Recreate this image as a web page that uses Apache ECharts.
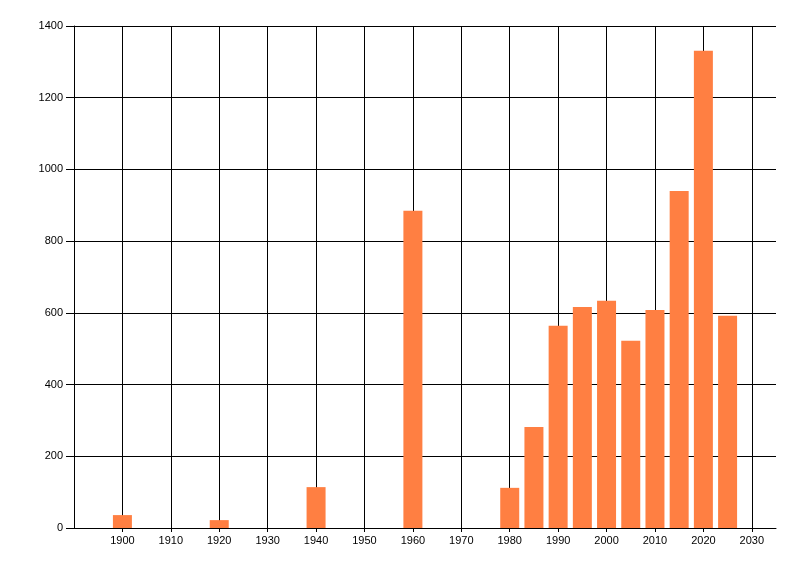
<!DOCTYPE html>
<html>
<head>
<meta charset="utf-8">
<script src="https://cdn.jsdelivr.net/npm/echarts@6/dist/echarts.min.js"></script>
<style>html,body{margin:0;padding:0;background:#fff;}#c{width:800px;height:576px;}</style>
</head>
<body>
<div id="c"></div>
<script>
const years = [1900, 1920, 1940, 1960, 1980, 1985, 1990, 1995, 2000, 2005, 2010, 2015, 2020, 2025];
const values = [36, 22, 114, 885, 112, 282, 564, 616, 634, 522, 608, 940, 1331, 592];
const xTicks = [1900, 1910, 1920, 1930, 1940, 1950, 1960, 1970, 1980, 1990, 2000, 2010, 2020, 2030];
const yTicks = [0, 200, 400, 600, 800, 1000, 1200, 1400];

const chart = echarts.init(document.getElementById('c'), null, {renderer: 'canvas'});
const font = 'Liberation Sans, Arial, sans-serif';
chart.setOption({
  animation: false,
  backgroundColor: '#fff',
  grid: {left: 74, right: 24, top: 26, bottom: 48, containLabel: false},
  xAxis: {
    type: 'value',
    min: 1890, max: 2035, interval: 10,
    axisLine: {show: true, lineStyle: {color: '#000', width: 1}},
    axisTick: {show: true, length: 4, lineStyle: {color: '#000'}, customValues: xTicks},
    axisLabel: {color: '#000', fontSize: 11, fontFamily: font, margin: 7, customValues: xTicks,
      formatter: v => String(v)},
    splitLine: {show: true, showMinLine: true, showMaxLine: true, lineStyle: {color: '#000', width: 1}}
  },
  yAxis: {
    type: 'value',
    min: 0, max: 1400, interval: 200,
    axisLine: {show: true, lineStyle: {color: '#000', width: 1}},
    axisTick: {show: true, length: 8, lineStyle: {color: '#000'}, customValues: yTicks},
    axisLabel: {color: '#000', fontSize: 11, fontFamily: font, margin: 11, customValues: yTicks,
      formatter: v => String(v)},
    splitLine: {show: true, lineStyle: {color: '#000', width: 1}}
  },
  series: [{
    type: 'bar',
    barWidth: 19,
    itemStyle: {color: '#ff7f42'},
    data: years.map((y, i) => [y, values[i]])
  }]
});
</script>
</body>
</html>
